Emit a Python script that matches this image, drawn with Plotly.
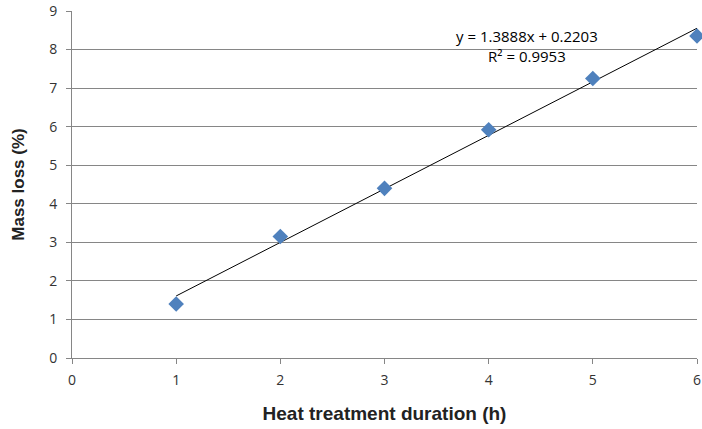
import plotly.graph_objects as go

duration_h = [1, 2, 3, 4, 5, 6]
mass_loss = [1.4, 3.15, 4.4, 5.92, 7.25, 8.35]

# trendline as printed on the chart
slope = 1.3888
intercept = 0.2203
r_squared = 0.9953

fit_x = [duration_h[0], duration_h[-1]]
fit_y = [slope * x + intercept for x in fit_x]

fig = go.Figure()

fig.add_trace(go.Scatter(x=fit_x, y=fit_y, mode='lines',
                         line=dict(color='black', width=1), showlegend=False))
fig.add_trace(go.Scatter(x=duration_h, y=mass_loss, mode='markers',
                         marker=dict(symbol='diamond', size=12, color='#4F81BD'),
                         showlegend=False, cliponaxis=False))

fig.add_annotation(x=4.37, y=8.1, xref='x', yref='y', showarrow=False,
                   text='y = {}x + {}<br>R² = {}'.format(slope, intercept, r_squared),
                   font=dict(family='Open Sans, Liberation Sans', size=15, color='black'))

fig.update_layout(
    width=702, height=429,
    margin=dict(l=72, r=5, t=11, b=71),
    plot_bgcolor='white', paper_bgcolor='white',
    font=dict(family='Open Sans, Liberation Sans', size=14, color='#333333'),
)

fig.update_xaxes(range=[0, 6], dtick=1, showgrid=False, zeroline=False, automargin=False,
                 showline=True, linecolor='#868686', linewidth=1,
                 ticks='outside', ticklen=5, tickcolor='#868686', ticklabelstandoff=4,
                 title=dict(text='<b>Heat treatment duration (h)</b>',
                            font=dict(family='Liberation Sans', size=19, color='#222222'),
                            standoff=18))
fig.update_yaxes(range=[0, 9], dtick=1, showgrid=True, gridcolor='#868686', gridwidth=1,
                 zeroline=False, showline=True, linecolor='#868686', linewidth=1, automargin=False,
                 ticks='outside', ticklen=5, tickcolor='#868686', ticklabelstandoff=6,
                 title=dict(text='<b>Mass loss (%)</b>',
                            font=dict(family='Liberation Sans', size=17, color='#222222'),
                            standoff=20))

# drop the default body margin so the figure sits at the window's corner
fig.write_html("out.html", config={'displayModeBar': False},
               post_script="document.body.style.margin='0';")
